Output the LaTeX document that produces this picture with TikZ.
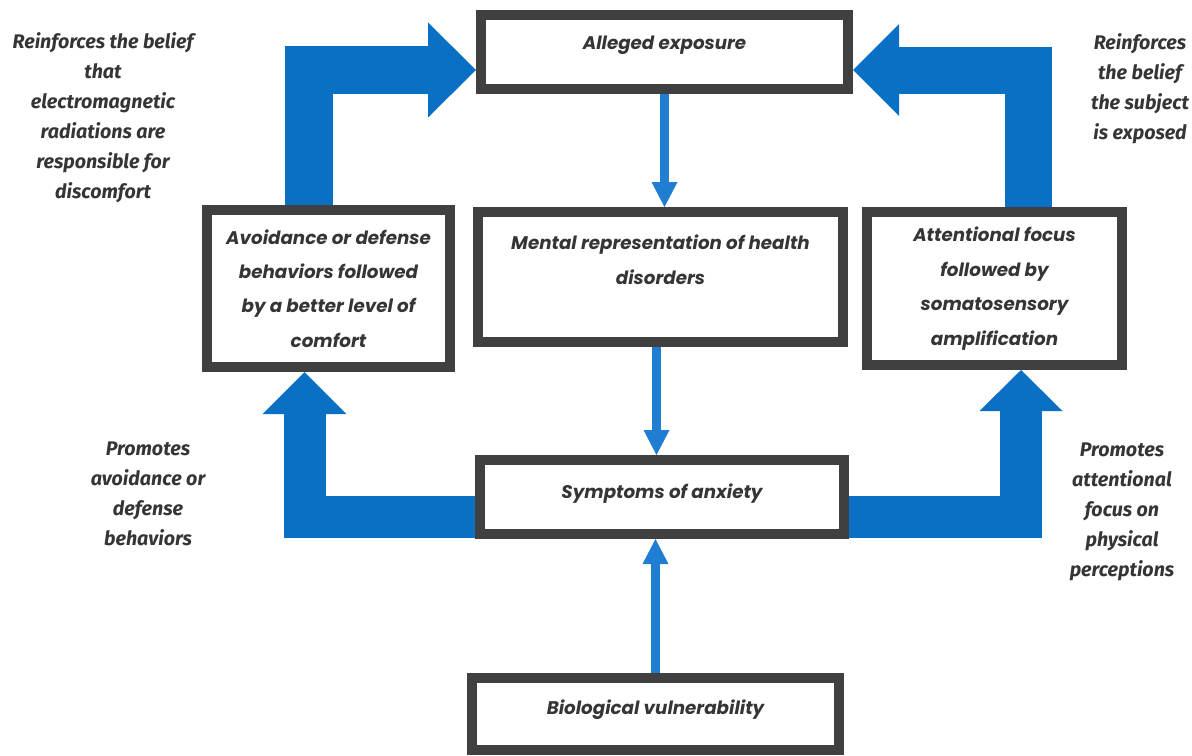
\documentclass[tikz,border=0pt]{standalone}
\usepackage{fontspec}
\setmainfont{Fira Sans}
\newfontfamily\boxfont{Poppins}
\usepackage{xcolor}
\usetikzlibrary{positioning,arrows.meta,calc}
\definecolor{mBlue}{HTML}{0A70C4}
\definecolor{mLightBlue}{HTML}{1F7DD2}
\definecolor{mGrey}{HTML}{404040}
\definecolor{mText}{HTML}{353535}
\begin{document}
\begin{tikzpicture}[
  box/.style={draw=mGrey, line width=0.25cm, fill=white, align=center, text=mText, inner sep=2pt, font=\boxfont\bfseries\itshape\fontsize{13}{24.5}\selectfont},
  side/.style={align=center, text=mText, inner sep=0pt, font=\bfseries\itshape\fontsize{14}{21.3}\selectfont},
  thinarrow/.style={draw=mLightBlue, line width=0.225cm, -{Triangle[length=0.625cm, width=0.65cm, line width=0pt]}}
]
\useasboundingbox (0,0) rectangle (29.8,-18.875);
\node[box, minimum width=9.175cm, minimum height=1.85cm, text depth=0.45cm] (exposure) at (16.6125,-1.3) {Alleged exposure};
\node[box, minimum width=9.125cm, minimum height=3.25cm] (mental) at (16.5125,-6.925) {Mental representation of health\\ disorders\\ ~};
\node[box, minimum width=6.075cm, minimum height=3.925cm] (avoid) at (8.2125,-7.2125) {Avoidance or defense\\ behaviors followed\\ by a better level of\\ comfort};
\node[box, minimum width=6.375cm, minimum height=3.825cm] (attent) at (24.8625,-7.2125) {Attentional focus\\ followed by\\ somatosensory\\ amplification};
\node[box, minimum width=9.1cm, minimum height=1.85cm, text depth=0.3cm] (sympt) at (16.55,-12.425) {Symptoms of anxiety};
\node[box, minimum width=9.175cm, minimum height=1.8cm, text depth=0.35cm] (bio) at (16.3875,-17.85) {Biological vulnerability};
\node[side] (lbltl) at (2.575,-2.95) {Reinforces the belief\\ that\\ electromagnetic\\ radiations are\\ responsible for\\ discomfort};
\node[side] (lbltr) at (28.5,-2.225) {Reinforces\\ the belief\\ the subject\\ is exposed};
\node[side] (lblbl) at (3.7,-12.35) {Promotes\\ avoidance or\\ defense\\ behaviors};
\node[side] (lblbr) at (28.05,-12.8) {Promotes\\ attentional\\ focus on\\ physical\\ perceptions};
\draw[mBlue, line width=1.2cm, line join=miter, -{Triangle[length=1.2cm, width=2.375cm, line width=0pt]}] ($(avoid.north)+(-0.4875,0)$) |- ($(exposure.west)+(0,-0.45)$);
\draw[mBlue, line width=1.175cm, line join=miter, -{Triangle[length=1.15cm, width=2.3cm, line width=0pt]}] ($(attent.north)+(0.85,0)$) |- ($(exposure.east)+(0,-0.45)$);
\draw[mBlue, line width=1.05cm, line join=miter, -{Triangle[length=1.05cm, width=2.1cm, line width=0pt]}] ($(sympt.west)+(0,-0.5)$) -| ($(avoid.south)+(-0.6,0)$);
\draw[mBlue, line width=1.05cm, line join=miter, -{Triangle[length=1.025cm, width=2.075cm, line width=0pt]}] ($(sympt.east)+(0,-0.5)$) -| ($(attent.south)+(0.6625,0)$);
\draw[thinarrow] (exposure.south) -- (exposure.south |- mental.north);
\draw[thinarrow] ($(mental.south)+(-0.1,0)$) -- ($(mental.south |- sympt.north)+(-0.1,0)$);
\draw[thinarrow] (bio.north) -- (bio.north |- sympt.south);
\end{tikzpicture}
\end{document}
